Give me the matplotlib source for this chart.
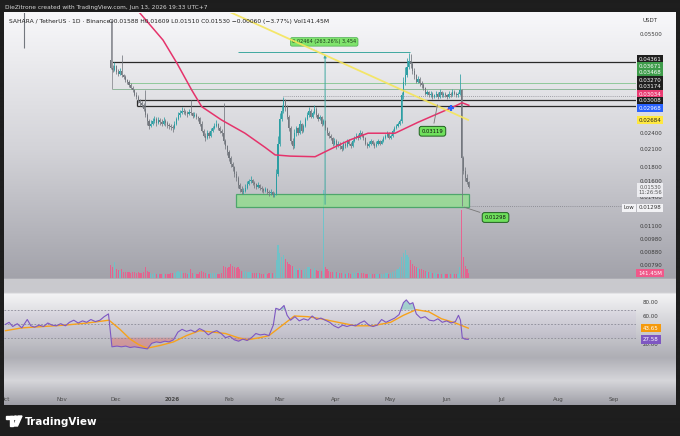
# SAHARA / USDT daily chart, TradingView style screenshot
import numpy as np
import matplotlib.pyplot as plt
from matplotlib.patches import Rectangle, Circle, Polygon
import matplotlib.transforms as mtransforms

# ---- data (prices in 1e-5 USDT, x = days from 2026-01-01) ----
first_day = -34          # 2025-11-28
first_open = 4450
closes = [4150, 4080, 4220, 4000, 3950, 4050, 3900,
          3850, 3750, 3700, 3600, 3520,
          3450, 3320, 3250, 3150, 3100, 3050,
          2950, 2800, 2650, 2550,
          2600, 2650, 2700, 2620, 2680, 2640, 2600, 2660, 2620, 2580, 2540,
          2530, 2500,
          2600, 2700, 2800, 2850, 2900, 2880, 2850, 2820, 2880,
          2850, 2780, 2800, 2750, 2720,
          2600, 2450, 2350, 2300,
          2400, 2350, 2450, 2500, 2550, 2600, 2500, 2450, 2400,
          2250, 2150, 2050, 1950, 1850, 1800, 1700, 1650,
          1550, 1500, 1470, 1480,
          1520, 1560, 1600, 1620, 1580, 1560, 1530, 1550, 1520, 1500, 1480, 1500, 1470, 1450, 1460,
          1430, 1440,
          1700, 2200, 2700, 2900, 3150,
          3000, 2750, 2500, 2250, 2150,
          2400, 2500, 2400, 2600, 2450, 2550,
          2700, 2800, 2900, 2750, 2850, 2950,
          2800, 2700, 2750, 2600, 2650, 2500,
          2400, 2350, 2300, 2200, 2250, 2150,
          2200, 2150, 2100, 2200, 2150, 2250, 2200, 2150,
          2250, 2300, 2350, 2300, 2400, 2350, 2300,
          2200, 2150, 2200, 2250, 2200, 2150, 2200, 2250, 2200, 2250, 2300,
          2350, 2400, 2300, 2350,
          2450, 2500, 2550, 2600, 2650,
          3300, 3700,
          3900, 4200, 4400, 4300, 4050,
          3900, 3700, 3800, 3650, 3600,
          3500, 3350, 3400, 3300, 3350, 3250,
          3300, 3350, 3250, 3400, 3300, 3350, 3300, 3250, 3350, 3300, 3400, 3350, 3300, 3350,
          3450,
          1950,
          1750, 1650, 1588, 1530]
highs = [6200, 4250, 4350, 4250, 4100, 4150, 4630,
         3950, 3900, 3800, 3750, 3650,
         3580, 3480, 3380, 3300, 3200, 3150,
         3100, 3450, 2850, 2700,
         2680, 2720, 2780, 2740, 2760, 2720, 2700, 2740, 2700, 2660, 2620,
         2600, 2580,
         2650, 2760, 2880, 2920, 2980, 2960, 2920, 2900, 2940,
         3170, 2880, 2860, 2840, 2780,
         2760, 2650, 2480, 2400,
         2460, 2440, 2500, 2560, 2620, 2680, 2620, 2540, 2480,
         3100, 2280, 2180, 2080, 1980, 1880, 1820, 1740,
         1680, 1580, 1540, 1520,
         1560, 1600, 1640, 1680, 1640, 1600, 1580, 1590, 1570, 1540, 1520, 1530, 1510, 1490, 1500,
         1480, 1470,
         1780, 2350, 2850, 3050, 3250,
         3200, 3050, 2800, 2550, 2300,
         2480, 2560, 2520, 2680, 2620, 2600,
         2760, 2860, 3000, 2940, 2900, 3050,
         2980, 2840, 2800, 2780, 2700, 2680,
         2520, 2440, 2380, 2320, 2300, 2280,
         2240, 2230, 2170, 2240, 2220, 2290, 2280, 2220,
         2280, 2340, 2400, 2380, 2460, 2440, 2380,
         2320, 2230, 2240, 2290, 2270, 2220, 2240, 2290, 2270, 2290, 2340,
         2390, 2450, 2420, 2380,
         2480, 2540, 2600, 2640, 2700,
         3400, 3850,
         4200, 4500, 4700, 4650, 4350,
         4150, 3950, 3880, 3850, 3720,
         3650, 3550, 3450, 3420, 3420, 3380,
         3350, 3420, 3380, 3480, 3420, 3400, 3380, 3340, 3420, 3380, 3470, 3440, 3380, 3400,
         3950,
         3480,
         1980, 1800, 1700, 1609]
lows = [4100, 4000, 4050, 3950, 3880, 3900, 3850,
        3780, 3700, 3620, 3550, 3480,
        3400, 3280, 3200, 3100, 3020, 2980,
        2900, 2750, 2580, 2480,
        2520, 2580, 2620, 2560, 2600, 2580, 2540, 2580, 2560, 2500, 2480,
        2460, 2430,
        2480, 2580, 2680, 2760, 2820, 2820, 2790, 2760, 2800,
        2800, 2720, 2740, 2700, 2660,
        2560, 2420, 2320, 2250,
        2280, 2300, 2330, 2430, 2480, 2520, 2460, 2400, 2350,
        2200, 2100, 2000, 1900, 1800, 1740, 1660, 1600,
        1520, 1460, 1440, 1440,
        1470, 1500, 1550, 1580, 1550, 1520, 1500, 1510, 1490, 1470, 1450, 1460, 1440, 1420, 1430,
        1400, 1410,
        1430, 1680, 2150, 2650, 2850,
        2900, 2700, 2450, 2200, 2100,
        2120, 2350, 2360, 2380, 2400, 2420,
        2520, 2680, 2760, 2720, 2720, 2820,
        2760, 2660, 2680, 2560, 2580, 2460,
        2360, 2300, 2260, 2160, 2180, 2110,
        2130, 2110, 2060, 2090, 2120, 2140, 2170, 2120,
        2140, 2230, 2280, 2270, 2280, 2320, 2270,
        2180, 2120, 2130, 2180, 2170, 2120, 2140, 2180, 2170, 2190, 2220,
        2280, 2330, 2280, 2280,
        2320, 2430, 2480, 2530, 2580,
        2620, 3200,
        3600, 3850, 4100, 4150, 3950,
        3800, 3650, 3660, 3580, 3520,
        3450, 3300, 3300, 3250, 3250, 3200,
        3220, 3260, 3200, 3220, 3260, 3260, 3240, 3200, 3230, 3250, 3280, 3300, 3250, 3260,
        3300,
        1298,
        1700, 1600, 1560, 1510]
volumes = [380, 300, 450, 250, 220, 200, 260,
           180, 170, 160, 170, 150,
           160, 170, 150, 160, 140, 150,
           180, 300, 200, 170,
           150, 120, 130, 110, 120, 100, 110, 100, 100, 110, 120,
           130, 140,
           150, 180, 200, 170, 190, 150, 130, 120, 140,
           250, 150, 120, 110, 120,
           160, 200, 180, 150,
           140, 120, 130, 140, 150, 130, 120, 110, 130,
           350, 300, 280, 320, 400, 350, 300, 280,
           300, 250, 200, 180,
           200, 180, 170, 160, 150, 140, 130, 120, 130, 120, 110, 120, 110, 130, 120,
           150, 140,
           500, 930, 700, 600, 650,
           550, 450, 400, 380, 350,
           300, 250, 220, 280, 230, 220,
           250, 300, 320, 250, 240, 280,
           220, 200, 180, 190, 2490, 300,
           250, 200, 180, 170, 160, 170,
           150, 140, 150, 130, 120, 140, 130, 120,
           130, 150, 160, 140, 170, 150, 130,
           120, 110, 100, 110, 100, 100, 110, 100, 100, 110, 120,
           130, 150, 120, 130,
           160, 200, 220, 250, 300,
           600, 700,
           790, 650, 600, 500, 400,
           350, 300, 280, 260, 250,
           220, 200, 180, 170, 160, 150,
           140, 130, 120, 130, 120, 110, 120, 110, 120, 110, 130, 120, 110, 120,
           300,
           1920,
           600, 350, 250, 141.45]   # millions

# Oct 10 flash-crash wick, body above the visible range
crash_day, crash_low = -82, 0.0490

ma_day = [-23, -5.3, 2.3, 10.5, 16, 27, 39.8, 50.9, 56.4, 64.6, 78.4, 89.4, 97.7, 107.5,
          122.4, 135, 144.4, 153.8, 159.3, 163]
ma_val = [0.0720, 0.0525, 0.0433, 0.0345, 0.0300, 0.0268, 0.0240, 0.0213, 0.0200, 0.0198,
          0.0197, 0.0214, 0.0227, 0.0240, 0.0240, 0.0263, 0.0280, 0.0298, 0.0310, 0.03034]

trend_day = [29, 162.6]
trend_val = [0.0676, 0.02684]

rsi_day = [-92, -90, -88, -85.5, -83, -80, -78, -76, -73.5, -71, -68.7, -66.4, -64, -61.6, -59,
           -56.8, -54.4, -52, -49.6, -47.3, -45, -42.5, -40, -37.7, -35.3, -33.4, -30.6, -28.2,
           -25.8, -23.4, -21, -18.6, -16.2, -13.9, -11.5, -9, -6.7, -4.3, -2, 0.5, 2.9, 5.2, 7.6,
           10, 12.4, 14.8, 17.2, 19.6, 22, 24.3, 26.7, 29.1, 31.5, 33.9, 36.3, 38.6, 41, 43.4,
           45.8, 48.2, 50.6, 53, 55.4, 56.8, 59, 61.3, 63, 64.9, 67.3, 69.7, 72.1, 74.5, 76.8,
           79.2, 81.6, 84, 86.4, 88.8, 91.2, 93.6, 95.9, 98.3, 100.7, 103.1, 105.5, 107.9, 110.3,
           112.6, 115, 117.4, 119.8, 122.2, 124.6, 127, 128.6, 130.5, 132.2, 134.1, 136.5, 138.9,
           141.3, 143.7, 146, 148.4, 150.8, 153.2, 155.6, 157.3, 158.4, 159.4, 160.8, 162.7]
rsi_val = [49, 52, 46, 50, 44, 56, 47, 45, 48, 46, 51, 48, 47, 50, 47,
           52, 55, 51, 54, 52, 56, 53, 55, 60, 64, 17, 18, 17,
           18, 16, 17, 16, 15, 14, 22, 24, 23, 25, 24, 27, 38, 42, 39,
           41, 38, 43, 40, 34, 38, 40, 36, 30, 32, 27, 25, 28, 26, 30,
           36, 34, 35, 33, 48, 72, 70, 76, 62, 55, 60, 54, 57, 55, 61,
           56, 58, 55, 52, 47, 44, 48, 46, 48, 47, 51, 54, 48, 46,
           48, 56, 52, 55, 58, 63, 80, 84, 78, 80, 64, 58, 60,
           55, 54, 57, 52, 54, 51, 53, 62, 55, 30, 28, 27.58]
rsi_ma_day = [-92, -83, -71, -59, -47, -35, -29, -23.4, -18.6, -14, -6.7, 0.5, 7.6, 14.8, 22,
              29, 36, 41, 48, 53, 60, 67, 74.5, 81.6, 91, 100.7, 110, 120, 127, 134, 141, 148,
              155.6, 162.7]
rsi_ma_val = [40, 44, 46, 48, 51, 55, 42, 28, 20, 15, 19, 24, 33, 40, 38,
              36, 30, 27, 30, 33, 47, 61, 60, 57, 52, 47, 47, 52, 62, 70, 67, 57,
              51, 43.65]

month_day = [-92, -61, -31, 0, 31, 59, 90, 120, 151, 181, 212, 243]
month_lbl = ['Oct', 'Nov', 'Dec', '2026', 'Feb', 'Mar', 'Apr', 'May', 'Jun', 'Jul', 'Aug', 'Sep']
price_ticks = [0.055, 0.024, 0.021, 0.018, 0.016, 0.014, 0.0125, 0.011, 0.0098, 0.0088, 0.0079]

# ---- figure scaffolding (pixel helpers) ----
W, H = 680, 436
fig = plt.figure(figsize=(6.8, 4.36), dpi=100)
fig.patch.set_facecolor('#1e1e1e')


def fx(px):
    return px / W


def fy(py):
    return 1 - py / H


def box(l, t, r, b):
    return [fx(l), fy(b), (r - l) / W, (b - t) / H]


def rgb(h):
    return [int(h[i:i + 2], 16) / 255 for i in (1, 3, 5)]


# background gradient panes
stops = [(13, '#f8f8fa'), (150, '#d3d3d8'), (278, '#a2a2aa'), (279, '#c9c9ce'), (292, '#c9c9ce'),
         (294, '#f3f3f5'), (357, '#aeaeb5'), (380, '#d6d6da'), (405, '#9d9da5')]
rows = np.arange(H)
col = np.zeros((H, 3))
for k in range(3):
    col[:, k] = np.interp(rows, [s[0] for s in stops], [rgb(s[1])[k] for s in stops])
img = np.repeat(col[:, None, :], W, axis=1)
dark = rgb('#1e1e1e')
img[:13] = dark
img[405:] = dark
img[:, :4] = dark
img[:, 676:] = dark
bg = fig.add_axes([0, 0, 1, 1], zorder=-10)
bg.imshow(img, aspect='auto', extent=(0, W, H, 0))
bg.set_xlim(0, W)
bg.set_ylim(H, 0)
bg.axis('off')

XL = (-92.8, 255.0)

# ---- main price pane ----
axv = fig.add_axes(box(4, 13, 636, 278), zorder=1)
ax = fig.add_axes(box(4, 13, 636, 278), zorder=2)
for a in (ax, axv):
    a.set_facecolor('none')
    a.set_xlim(*XL)
    for s in a.spines.values():
        s.set_visible(False)
    a.set_xticks([])
    a.set_yticks([])
ax.set_yscale('log')
ax.set_ylim(0.00711, 0.0659)
ax.minorticks_off()
ax.set_yticks([])

c = np.array(closes) * 1e-5
o = np.array([first_open] + closes[:-1]) * 1e-5
hi = np.array(highs) * 1e-5
lo = np.array(lows) * 1e-5
days = np.arange(len(c)) + first_day
up = c >= o
ccol = np.where(up, '#2c9ea3', '#73777e')
vcol = np.where(up, '#66c6cc', '#f0588a')

axv.bar(days, volumes, width=0.65, color=vcol, alpha=0.85)
axv.set_ylim(0, 7500)

ax.vlines(days, lo, hi, colors=ccol, lw=0.55, zorder=3)
ax.bar(days, np.maximum(np.abs(c - o), 1e-6), bottom=np.minimum(o, c), width=0.6,
       color=ccol, zorder=3)
ax.vlines(crash_day, crash_low, 0.09, colors='#73777e', lw=0.8, zorder=3)

# horizontal levels
ax.hlines(0.04361, -33.4, XL[1], color='#2a2a2a', lw=0.9, zorder=2)
ax.hlines([0.03174, 0.03008], -19.6, XL[1], color='#2a2a2a', lw=0.9, zorder=2)
ax.vlines(-19.6, 0.03008, 0.03174, color='#2a2a2a', lw=0.9, zorder=2)
ax.hlines(0.03671, -24.5, XL[1], color='#8fc99a', lw=0.7, zorder=2)
ax.hlines(0.03468, -33.4, XL[1], color='#8fb79a', lw=0.7, zorder=2)
ax.vlines(-33.4, 0.03468, 0.0621, color='#9a9aa0', lw=0.7, zorder=2)
ax.hlines(0.03270, 60.8, XL[1], color='#8a8a92', lw=0.6, linestyles=(0, (1, 1.5)), zorder=2)

# support zone
ax.add_patch(Rectangle((34.9, 0.0129), 163.3 - 34.9, 0.01435 - 0.0129, facecolor='#8fe08a',
                       edgecolor='#2f9a55', lw=0.9, alpha=0.75, zorder=2))

# price range tool
ax.hlines(0.0475, 36.0, 130.7, color='#3fa8a0', lw=0.7, zorder=2)
ax.annotate('', xy=(83.9, 0.0475), xytext=(83.9, 0.0129),
            arrowprops=dict(arrowstyle='-|>', color='#3fa8a0', lw=0.7, mutation_scale=4), zorder=2)
ax.text(83.4, 0.0517, '0.02464 (263.26%) 3,454', fontsize=3.6, color='#1b3a1b', ha='center',
        va='center', zorder=4,
        bbox=dict(boxstyle='round,pad=0.35', fc='#7fe36c', ec='#4caf50', lw=0.5))

# MA and trendline
ax.plot(ma_day, ma_val, color='#e5336b', lw=1.1, zorder=4)
ax.plot(trend_day, trend_val, color='#f5e55a', lw=1.3, alpha=0.9, zorder=5)
ax.plot(153.1, 0.02968, marker='+', ms=5, mew=1.6, color='#2962ff', zorder=6)

# callouts
callout = dict(boxstyle='round,pad=0.45', fc='#6fe05c', ec='#1f5f1f', lw=0.7)
ax.annotate('0.03119', xy=(146.0, 0.03119), xytext=(143.0, 0.0244), fontsize=3.8,
            ha='center', va='center', color='#111', bbox=callout, zorder=6,
            arrowprops=dict(arrowstyle='-', color='#777', lw=0.6))
ax.annotate('0.01298', xy=(159.1, 0.01298), xytext=(177.7, 0.01182), fontsize=3.8,
            ha='center', va='center', color='#111', bbox=callout, zorder=6,
            arrowprops=dict(arrowstyle='-', color='#777', lw=0.6))
ax.hlines(0.01298, 163.7, 247.9, color='#808088', lw=0.6, linestyles=(0, (1, 1.5)), zorder=2)

# ---- price scale (right) ----
tr = mtransforms.blended_transform_factory(ax.transAxes, ax.transData)
xl = (651 - 4) / 632
for p in price_ticks:
    ax.text(xl, p, '%.5f' % p, transform=tr, fontsize=4, color='#3a3a3a', ha='center',
            va='center', clip_on=False)


def tag(py, txt, fc, tc='white', px=650, fs=4):
    fig.text(fx(px), fy(py), txt, fontsize=fs, color=tc, ha='center', va='center',
             bbox=dict(boxstyle='square,pad=0.3', fc=fc, ec='none'))


fig.text(fx(650), fy(20), 'USDT', fontsize=4, color='#333', ha='center', va='center')
tag(59.5, '0.04361', '#1e1e1e')
tag(66, '0.03671', '#3e9c4b')
tag(72.5, '0.03468', '#3e9c4b')
tag(80.5, '0.03270', '#1e1e1e')
tag(87, '0.03174', '#1e1e1e')
tag(94, '0.03034', '#ea3c73')
tag(101, '0.03008', '#1e1e1e')
tag(108, '0.02968', '#2962ff')
tag(120.3, '0.02684', '#ffe840', tc='#222')
tag(190, '0.01530\n11:26:56', '#ececf0', tc='#555', fs=3.8)
tag(207.7, '0.01298', '#f2f2f5', tc='#333')
tag(207.7, 'Low', '#f2f2f5', tc='#333', px=629)
tag(273.3, '141.45M', '#f0588a')

# ---- RSI pane ----
axr = fig.add_axes(box(4, 294, 636, 357), zorder=2)
axr.set_facecolor('none')
for s in axr.spines.values():
    s.set_visible(False)
axr.set_xticks([])
axr.set_yticks([])
axr.set_xlim(*XL)
axr.set_ylim(2.43, 92.43)
axr.axhspan(30, 70, color='#7e57c2', alpha=0.05, lw=0)
for lv in (70, 50, 30):
    axr.axhline(lv, color='#8a8a96', lw=0.6, ls=(0, (2, 2)))
rd = np.array(rsi_day)
rv = np.array(rsi_val)
axr.fill_between(rd, rv, 30, where=rv < 30, interpolate=True, color='#ef5350', alpha=0.35, lw=0)
axr.fill_between(rd, rv, 70, where=rv > 70, interpolate=True, color='#26a69a', alpha=0.35, lw=0)
axr.plot(rsi_ma_day, rsi_ma_val, color='#f7a21b', lw=1.0)
axr.plot(rsi_day, rsi_val, color='#7e57c2', lw=0.8)
trr = mtransforms.blended_transform_factory(axr.transAxes, axr.transData)
for v in (80, 60, 40, 20):
    axr.text(xl, v, '%.2f' % v, transform=trr, fontsize=4, color='#3a3a3a', ha='center',
             va='center', clip_on=False)
axr.text(xl, 43.65, '43.65', transform=trr, fontsize=4, color='white', ha='center', va='center',
         clip_on=False, bbox=dict(boxstyle='square,pad=0.3', fc='#f59a0c', ec='none'))
axr.text(xl, 27.58, '27.58', transform=trr, fontsize=4, color='white', ha='center', va='center',
         clip_on=False, bbox=dict(boxstyle='square,pad=0.3', fc='#7e57c2', ec='none'))

# ---- time axis ----
axt = fig.add_axes(box(4, 392, 636, 405), zorder=2)
axt.set_facecolor('none')
axt.axis('off')
axt.set_xlim(*XL)
axt.set_ylim(0, 1)
for d, lbl in zip(month_day, month_lbl):
    axt.text(d, 0.45, lbl, fontsize=4, color='#4a4a4a', ha='center', va='center', clip_on=True,
             fontweight='bold' if lbl == '2026' else 'normal')

# ---- header / legend / footer ----
fig.text(fx(5), fy(7), 'DieZitrone created with TradingView.com, Jun 13, 2026 19:33 UTC+7',
         fontsize=4.2, color='#d6d6d6', va='center')
fig.text(fx(9), fy(21), 'SAHARA / TetherUS \u00b7 1D \u00b7 Binance', fontsize=4.3,
         color='#1e1e1e', va='center')
fig.text(fx(109), fy(21), 'O0.01588 H0.01609 L0.01510 C0.01530 \u22120.00060 (\u22123.77%) Vol141.45M',
         fontsize=4.3, color='#1e1e1e', va='center')

# TradingView logo
bg.add_patch(Rectangle((6, 416), 7, 3, color='white', zorder=5))
bg.add_patch(Rectangle((9.5, 416), 3.5, 10, color='white', zorder=5))
bg.add_patch(Circle((15.5, 417.8), 1.8, color='white', zorder=5))
bg.add_patch(Polygon([[18, 416], [22, 416], [17.5, 426], [13.5, 426]], color='white', zorder=5))
fig.text(fx(25), fy(421.5), 'TradingView', fontsize=7.5, color='white', fontweight='bold',
         va='center')

fig.savefig('out.png', dpi=100, facecolor=fig.get_facecolor())
